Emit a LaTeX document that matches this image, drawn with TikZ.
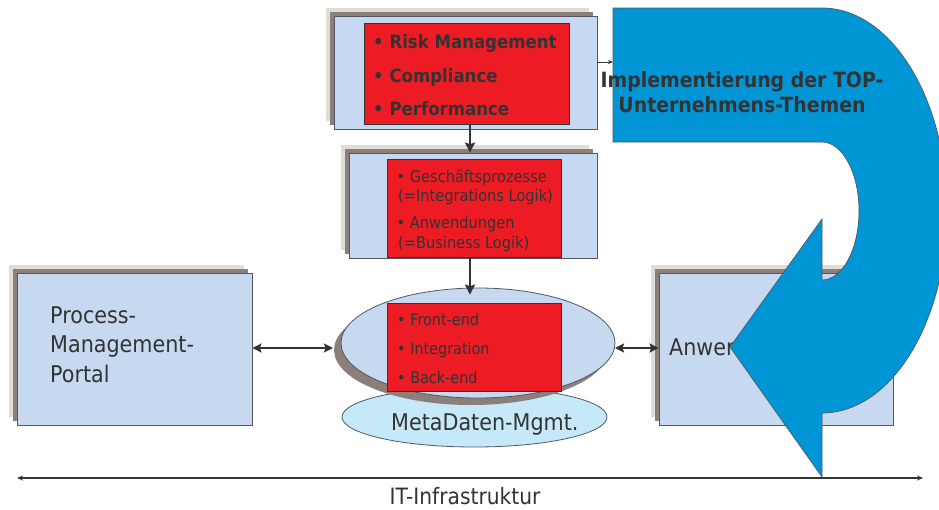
\documentclass[tikz,border=0pt]{standalone}
\usepackage{fontspec}
\setmainfont{DejaVu Sans}[FakeStretch=0.9]
\usetikzlibrary{arrows.meta,calc,shapes.geometric}

\definecolor{boxblue}{RGB}{198,217,240}
\definecolor{boxred}{RGB}{237,28,36}
\definecolor{arrowblue}{RGB}{0,150,214}
\definecolor{shadelight}{RGB}{224,220,216}
\definecolor{shadedark}{RGB}{140,127,122}
\definecolor{metacyan}{RGB}{197,233,248}
\definecolor{ink}{RGB}{51,51,51}
\definecolor{rim}{RGB}{80,88,100}

\begin{document}
\begin{tikzpicture}[x=1pt,y=1pt,
  panel/.style={draw=rim, line width=0.8pt, fill=boxblue, inner sep=0pt,
    preaction={fill=shadelight, transform canvas={shift={(-8pt,8pt)}}},
    preaction={fill=shadedark, transform canvas={shift={(-4pt,4pt)}}}},
  redbox/.style={draw=ink, line width=1pt, fill=boxred, inner sep=0pt},
  hub/.style={ellipse, draw=rim, line width=0.8pt, fill=boxblue, inner sep=0pt,
    preaction={fill=shadedark, transform canvas={shift={(-7pt,-7pt)}}}},
  meta/.style={ellipse, draw=rim, line width=0.8pt, fill=metacyan, inner sep=0pt},
  txt/.style={text=ink, inner sep=0pt, anchor=base west},
  big/.style={txt, font=\fontsize{23}{28}\selectfont},
  mid/.style={txt, font=\fontsize{16.2}{20}\selectfont},
  small/.style={txt, font=\fontsize{16}{20}\selectfont},
  topic/.style={txt, font=\fontsize{18.4}{22}\selectfont\bfseries},
  headline/.style={text=ink, inner sep=0pt, anchor=base, font=\fontsize{21}{25}\selectfont\bfseries},
  conn/.style={draw=ink, line width=2.2pt, -{Stealth[length=10pt,width=10pt,inset=1.5pt]}},
  biconn/.style={draw=ink, line width=2.2pt, {Stealth[length=9pt,width=9pt,inset=1.5pt]}-{Stealth[length=9pt,width=9pt,inset=1.5pt]}},
]
\useasboundingbox (0,0) rectangle (939,-509);

% metadata layer under the integration hub
\node[meta, minimum width=265, minimum height=60] (metaell) at (474.5,-417) {};
\node[big] (metatxt) at (391,-430) {MetaDaten-Mgmt.};

% panels
\node[panel, minimum width=235, minimum height=152] (portal) at (134.5,-349) {};
\node[panel, minimum width=234, minimum height=152] (apps) at (776,-349) {};
\node[panel, minimum width=263, minimum height=113] (topics) at (465.5,-72.5) {};
\node[panel, minimum width=248, minimum height=105] (logic) at (473,-205.5) {};

% integration hub
\node[hub, minimum width=274, minimum height=110] (hub) at (478,-343) {};

% red content boxes
\node[redbox, minimum width=205, minimum height=101] (topicsred) at (466.5,-73.5) {};
\node[redbox, minimum width=174, minimum height=98] (logicred) at (474,-208) {};
\node[redbox, minimum width=174, minimum height=88] (hubred) at (474,-347) {};

% texts
\node[big] (p1) at (50,-323) {Process-};
\node[big] (p2) at (50,-352) {Management-};
\node[big] (p3) at (50,-382) {Portal};
\node[big] (a1) at (669,-355) {Anwendungen};

\node[topic] (t1) at (373,-48) {• Risk Management};
\node[topic] (t2) at (373,-82) {• Compliance};
\node[topic] (t3) at (373,-115) {• Performance};

\node[mid] (l1) at (396.5,-182) {• Geschäftsprozesse};
\node[mid] (l2) at (398,-201) {(=Integrations Logik)};
\node[mid] (l3) at (396.5,-228) {• Anwendungen};
\node[mid] (l4) at (398,-248) {(=Business Logik)};

\node[small] (h1) at (397,-325) {• Front-end};
\node[small] (h2) at (397,-354) {• Integration};
\node[small] (h3) at (397,-383) {• Back-end};

% connectors
\coordinate (axis) at (470,0);
\draw[conn] (topicsred.south -| axis) -- (logic.north -| axis);
\draw[conn] (logicred.south -| axis) -- ([yshift=-7]hub.north -| axis);
\coordinate (hubleft) at (333,-348);
\coordinate (hubright) at (615,-348);
\draw[biconn] (portal.east |- hubleft) -- (hubleft);
\draw[biconn] (hubright) -- (apps.west |- hubright);

% big curved arrow
\coordinate (bluein) at (613,-62);
\draw[draw=ink, line width=0.9pt, -{Stealth[length=5pt,width=4pt]}] ([yshift=10.5]topics.east) -- (bluein);
\filldraw[fill=arrowblue, draw=rim, line width=0.7pt]
  (613,-8) -- (822,-8)
  arc[start angle=90, end angle=-90, x radius=125, y radius=202.5]
  -- (822,-477) -- (730,-347) -- (822,-219) -- (822,-280)
  arc[start angle=-90, end angle=90, x radius=37, y radius=69]
  -- (613,-142) -- cycle;
\node[headline] (b1) at (742,-87) {Implementierung der TOP-};
\node[headline] (b2) at (742,-112) {Unternehmens-Themen};

% infrastructure axis
\coordinate (itl) at (17,-478);
\coordinate (itr) at (923,-478);
\draw[draw=ink, line width=1.3pt, {Stealth[length=6pt,width=5pt]}-{Stealth[length=6pt,width=5pt]}] (itl) -- (itr);
\node[text=ink, inner sep=0pt, anchor=base, font=\fontsize{22.5}{26}\selectfont] (itlabel) at (465,-504) {IT-Infrastruktur};
\end{tikzpicture}
\end{document}
